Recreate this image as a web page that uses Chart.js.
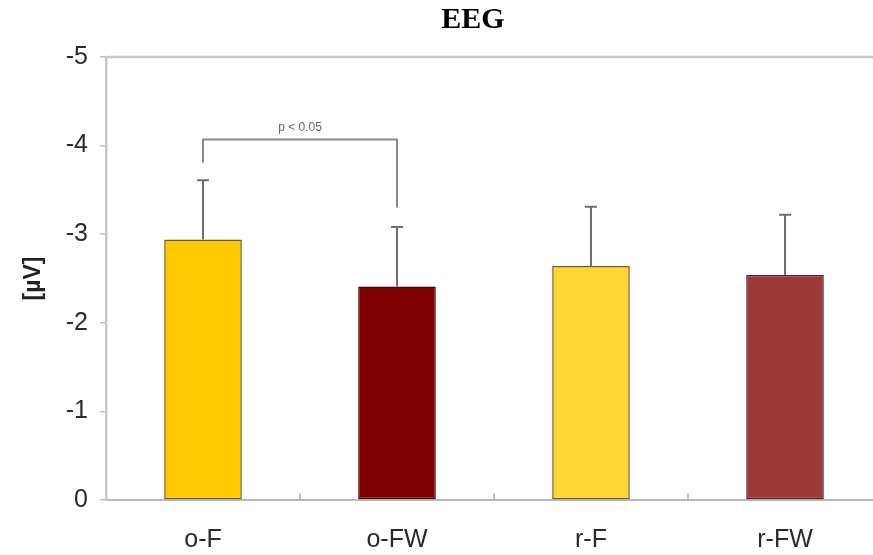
<!DOCTYPE html>
<html>
<head>
<meta charset="utf-8">
<script src="https://cdn.jsdelivr.net/npm/chart.js@4"></script>
<style>
html,body{margin:0;padding:0;background:#fff;overflow:hidden;}
canvas{display:block;}
</style>
</head>
<body>
<canvas id="c" width="882" height="555"></canvas>
<script>
const categories = ['o-F', 'o-FW', 'r-F', 'r-FW'];
const means = [-2.94, -2.41, -2.64, -2.54];
const errors = [0.67, 0.67, 0.67, 0.68];
const yTicks = [-5, -4, -3, -2, -1, 0];
const barColors = ['#ffc800', '#800000', '#ffd633', '#9b3838'];
const barBorders = ['#6e5a10', '#4a0000', '#6e5a20', '#552222'];
const sigPair = [0, 1];
const sigLevel = -4.07;
const sigLegEnds = [-3.81, -3.30];
const sigLabel = 'p < 0.05';
const titleText = 'EEG';
const yTitle = '[µV]';

const overlay = {
  id: 'overlay',
  afterDatasetsDraw(chart) {
    const ctx = chart.ctx;
    const x = chart.scales.x, y = chart.scales.y;
    const area = chart.chartArea;
    ctx.save();
    // top border
    ctx.strokeStyle = '#c8c8c8';
    ctx.lineWidth = 2.5;
    ctx.beginPath();
    ctx.moveTo(area.left, area.top);
    ctx.lineTo(area.right, area.top);
    ctx.stroke();
    // category separator ticks on x axis (pointing up)
    ctx.strokeStyle = '#b0b0b0';
    ctx.lineWidth = 1.5;
    for (let i = 0; i < categories.length - 1; i++) {
      const xp = (x.getPixelForValue(i) + x.getPixelForValue(i + 1)) / 2;
      ctx.beginPath();
      ctx.moveTo(xp, area.bottom);
      ctx.lineTo(xp, area.bottom - 7);
      ctx.stroke();
    }
    // error bars
    ctx.strokeStyle = '#6e6e6e';
    ctx.lineWidth = 2;
    means.forEach((m, i) => {
      const xp = x.getPixelForValue(i);
      const y0 = y.getPixelForValue(m);
      const y1 = y.getPixelForValue(m - errors[i]);
      ctx.beginPath();
      ctx.moveTo(xp, y0);
      ctx.lineTo(xp, y1);
      ctx.moveTo(xp - 6, y1);
      ctx.lineTo(xp + 6, y1);
      ctx.stroke();
    });
    // significance bracket
    const xa = x.getPixelForValue(sigPair[0]);
    const xb = x.getPixelForValue(sigPair[1]);
    const yl = y.getPixelForValue(sigLevel);
    ctx.strokeStyle = '#8a8a8a';
    ctx.lineWidth = 2;
    ctx.beginPath();
    ctx.moveTo(xa, y.getPixelForValue(sigLegEnds[0]));
    ctx.lineTo(xa, yl);
    ctx.lineTo(xb, yl);
    ctx.lineTo(xb, y.getPixelForValue(sigLegEnds[1]));
    ctx.stroke();
    ctx.fillStyle = '#666';
    ctx.font = '12px "Liberation Sans", Arial, sans-serif';
    ctx.textAlign = 'center';
    ctx.textBaseline = 'bottom';
    ctx.fillText(sigLabel, (xa + xb) / 2, yl - 6);
    // title
    ctx.fillStyle = '#000';
    ctx.font = 'bold 30px "Liberation Serif", "DejaVu Serif", serif';
    ctx.textAlign = 'center';
    ctx.textBaseline = 'middle';
    ctx.fillText(titleText, 473, 20);
    ctx.restore();
  }
};

new Chart(document.getElementById('c'), {
  type: 'bar',
  data: {
    labels: categories,
    datasets: [{
      data: means,
      backgroundColor: barColors,
      borderColor: barBorders,
      borderWidth: 1.5,
      borderSkipped: false,
      categoryPercentage: 1,
      barPercentage: 0.40
    }]
  },
  options: {
    responsive: false,
    animation: false,
    devicePixelRatio: 1,
    layout: { padding: { top: 57, left: 0, right: 0, bottom: 0 } },
    plugins: { legend: { display: false }, tooltip: { enabled: false }, title: { display: false } },
    scales: {
      x: {
        grid: { display: false },
        border: { display: true, color: '#b8b8b8', width: 2 },
        ticks: {
          color: '#2a2a2a',
          padding: 17,
          font: { family: '"Liberation Sans", Arial, sans-serif', size: 25 }
        },
        afterFit(s) { s.height = 55; }
      },
      y: {
        reverse: true,
        min: -5,
        max: 0,
        afterBuildTicks(s) { s.ticks = yTicks.map(v => ({ value: v })); },
        grid: { display: true, drawOnChartArea: false, drawTicks: true, tickLength: 6, color: '#c0c0c0', lineWidth: 1.5 },
        border: { display: true, color: '#c8c8c8', width: 2.5 },
        ticks: {
          color: '#2a2a2a',
          padding: 12,
          font: { family: '"Liberation Sans", Arial, sans-serif', size: 25 }
        },
        title: {
          display: true,
          text: yTitle,
          color: '#222',
          padding: { top: 20, bottom: 0 },
          font: { family: '"Liberation Sans", Arial, sans-serif', size: 23, weight: 'bold' }
        },
        afterFit(s) { s.width = 106; }
      }
    }
  },
  plugins: [overlay]
});
</script>
</body>
</html>
